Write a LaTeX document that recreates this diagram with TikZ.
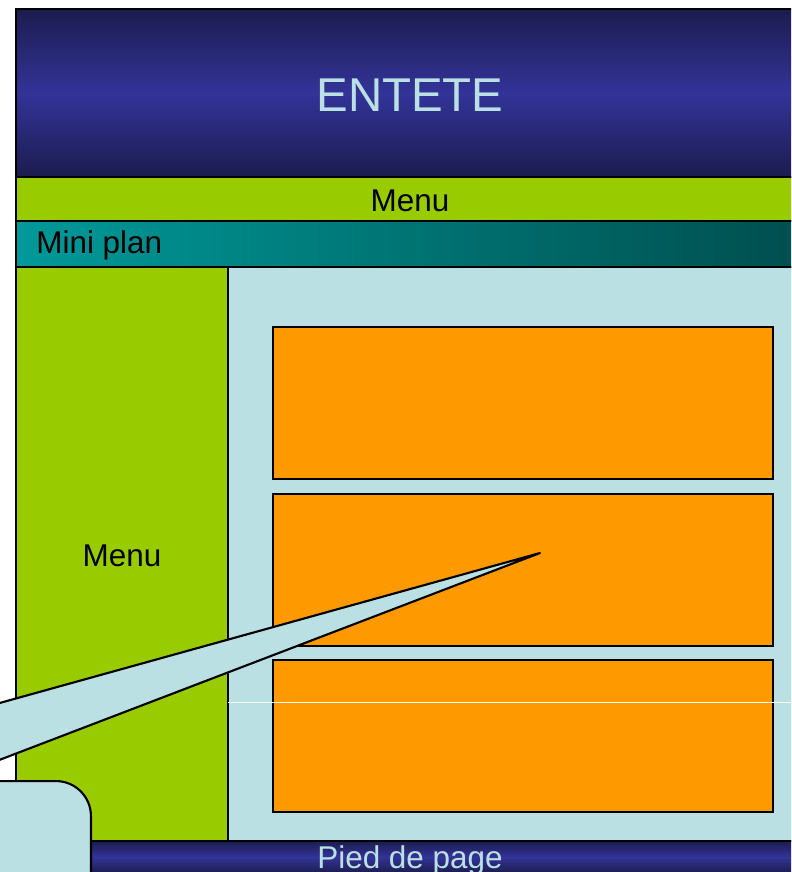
\documentclass[tikz,border=0pt]{standalone}
\usepackage{fontspec}
\setmainfont{Liberation Sans}
\usetikzlibrary{positioning}

\definecolor{navydark}{HTML}{1C1C4E}
\definecolor{navymid}{HTML}{333399}
\definecolor{menugreen}{HTML}{99CC00}
\definecolor{tealleft}{HTML}{009999}
\definecolor{tealright}{HTML}{004C4C}
\definecolor{paleblue}{HTML}{BBE0E3}
\definecolor{boxorange}{HTML}{FF9900}

\begin{document}
\begin{tikzpicture}[
    x=0.02cm, y=-0.02cm,
    band/.style={draw, line width=1.2pt, rectangle, anchor=north west, inner sep=0pt, outer sep=0pt, minimum width=16.2cm},
    panel/.style={draw, line width=1.2pt, rectangle, anchor=north west, inner sep=0pt, outer sep=0pt, minimum height=11.48cm},
    block/.style={draw, line width=1.2pt, fill=boxorange, rectangle, anchor=north west, inner sep=0pt, outer sep=0pt, minimum width=10cm, minimum height=3.04cm},
    label/.style={font=\fontsize{17.9}{21}\selectfont, inner sep=0pt, anchor=base},
    callout/.style={draw, line width=1.2pt, fill=paleblue, line join=round}
]
    \useasboundingbox (0,0) rectangle (791,872);
    \clip (0,0) rectangle (791,872);

    % Bands
    \node[band, minimum height=3.36cm, top color=navydark, bottom color=navydark, middle color=navymid] (header) at (16,9) {};
    \node[band, minimum height=0.88cm, fill=menugreen] (menubar) at (16,177) {};
    \node[band, minimum height=0.92cm, left color=tealleft, right color=tealright] (miniplan) at (16,221) {};
    \node[panel, minimum width=4.24cm, fill=menugreen] (sidemenu) at (16,267) {};
    \node[panel, minimum width=12cm, fill=paleblue] (content) at (228,267) {};
    \node[band, minimum height=0.64cm, top color=navydark, bottom color=navydark, middle color=navymid] (footer) at (16,841) {};

    % Blocks
    \node[block] (block1) at (273,327) {};
    \node[block] (block2) at (273,494) {};
    \node[block] (block3) at (273,660) {};
    \draw[white, line width=0.5pt] (content.west |- 0,702) -- (content.east |- 0,702);

    % Texts
    \node[label, text=paleblue, font=\fontsize{27}{31}\selectfont] (headertext) at (410,111) {ENTETE};
    \node[label] (menutext) at (410,211) {Menu};
    \node[label, anchor=base west] (plantext) at (36,253) {Mini plan};
    \node[label] (sidetext) at (122,566) {Menu};
    \node[label, text=paleblue] (footertext) at (410,868) {Pied de page};

    % Callout
    \node[callout, rounded corners=0.7cm, anchor=north east, minimum width=6cm, minimum height=3cm] (note) at (92,780) {};
    \coordinate (tip) at (540,553);
    \coordinate (baseup) at (-40,714);
    \coordinate (baselow) at (-40,775);
    \draw[callout] (tip) -- (baseup) -- (baselow) -- cycle;
\end{tikzpicture}
\end{document}
